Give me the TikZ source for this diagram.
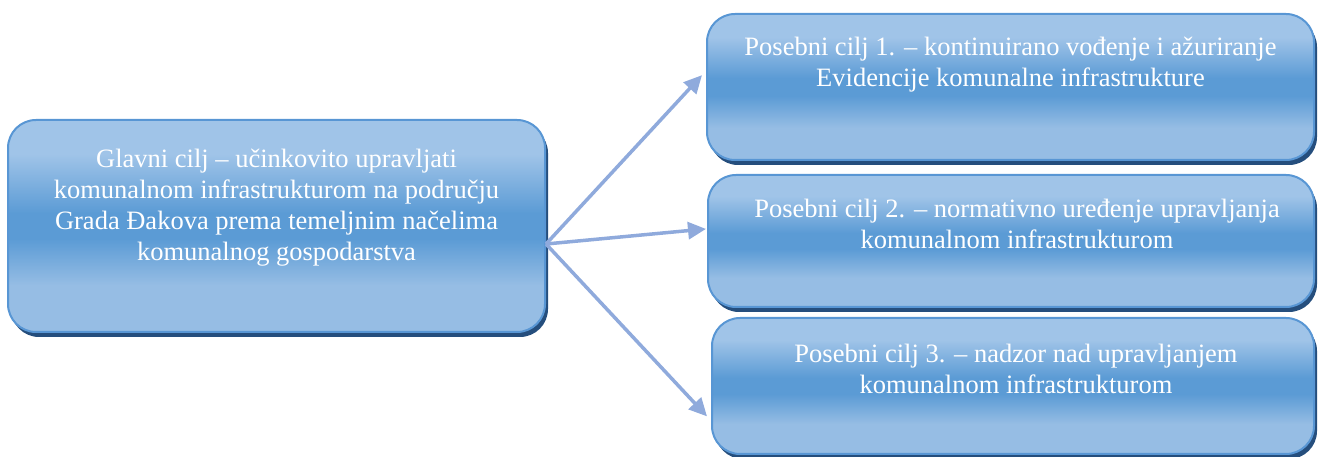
\documentclass[tikz,border=0pt]{standalone}
\usepackage{fontspec}
\setmainfont{Liberation Serif}
\usetikzlibrary{arrows.meta,shadows,calc}
\definecolor{lightb}{RGB}{160,196,232}
\definecolor{lightc}{RGB}{150,189,228}
\definecolor{midb}{RGB}{91,155,213}
\definecolor{borderc}{RGB}{88,150,212}
\definecolor{shadowc}{RGB}{37,78,125}
\definecolor{arrowc}{RGB}{143,170,220}
\pgfdeclareverticalshading{boxshade}{100bp}{color(0bp)=(lightc); color(25bp)=(lightc); color(36bp)=(lightc); color(47bp)=(midb); color(53bp)=(midb); color(67bp)=(lightb); color(75bp)=(lightb); color(100bp)=(lightb)}
\newcommand\gtext[4]{\parbox[c][#2pt][t]{#1pt}{\centering\rule{0pt}{#3pt}#4\par}}
\tikzset{
  goal/.style={rectangle, rounded corners=28pt, draw=borderc, line width=2pt,
    shading=boxshade, inner sep=0pt, text=white,
    general shadow={fill=shadowc, shadow xshift=3pt, shadow yshift=-5pt},
    font=\fontsize{26.5}{31}\selectfont},
  arr/.style={draw=arrowc, line width=3.5pt, -{Triangle[length=18pt,width=17pt]}}
}
\begin{document}
\begin{tikzpicture}[x=1pt,y=1pt]
\useasboundingbox (0,0) rectangle (1318,457);
\node[goal] (main) at (276.5,231) {\gtext{537}{212}{48}{Glavni cilj – učinkovito upravljati\\komunalnom infrastrukturom na području\\Grada Đakova prema temeljnim načelima\\komunalnog gospodarstva}};
\node[goal] (b1) at (1010.5,370) {\gtext{607}{146}{42}{Posebni cilj 1. – kontinuirano vođenje i ažuriranje\\Evidencije komunalne infrastrukture}};
\node[goal] (b2) at (1011,216) {\gtext{606}{132}{43}{\hspace*{12pt}Posebni cilj 2. – normativno uređenje upravljanja\\\hspace*{12pt}komunalnom infrastrukturom}};
\node[goal] (b3) at (1013,71) {\gtext{602}{136}{45}{\hspace*{6pt}Posebni cilj 3. – nadzor nad upravljanjem\\\hspace*{6pt}komunalnom infrastrukturom}};
\coordinate (src) at ($(main.east)+(0,-18)$);
\coordinate (e1) at ($(b1.north west)!0.42!(b1.south west)+(-4,0)$);
\coordinate (e2) at ($(b2.north west)!0.41!(b2.south west)+(-1,0)$);
\coordinate (e3) at ($(b3.north west)!0.72!(b3.south west)+(-4,0)$);
\draw[arr] (src) -- (e1);
\draw[arr] (src) -- (e2);
\draw[arr] (src) -- (e3);
\end{tikzpicture}
\end{document}
